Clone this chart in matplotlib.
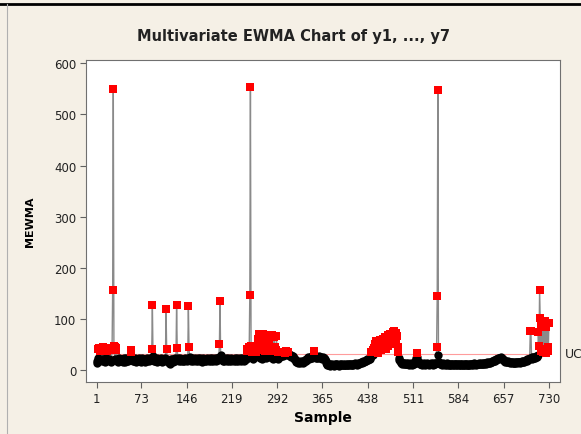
import matplotlib.pyplot as plt
import numpy as np
from matplotlib.lines import Line2D
from matplotlib.transforms import blended_transform_factory

# MEWMA statistic, samples 1..730
mewma = [
    14, 18, 24, 41, 44, 20, 38, 43, 19, 22, 45, 40, 21, 17, 42, 23, 19, 38, 44, 20,
    22, 18, 41, 20, 17, 39, 157, 550, 47, 45, 21, 40, 44, 19, 22, 17, 20, 23, 18, 21,
    19, 22, 17, 21, 24, 18, 16, 20, 23, 19, 21, 18, 22, 20, 24, 36, 40, 22, 19, 21,
    18, 20, 23, 17, 21, 19, 22, 18, 20, 24, 19, 17, 21, 23, 18, 20, 22, 19, 17, 21,
    20, 23, 18, 21, 19, 22, 24, 20, 22, 41, 127, 28, 21, 19, 22, 18, 20, 23, 17, 21,
    19, 22, 18, 20, 23, 21, 17, 20, 22, 19, 24, 21, 119, 41, 22, 18, 20, 15, 13, 19,
    21, 18, 22, 20, 17, 21, 23, 19, 22, 128, 43, 24, 20, 18, 21, 23, 19, 22, 20, 18,
    21, 19, 23, 20, 22, 18, 21, 24, 126, 46, 25, 22, 19, 21, 23, 20, 18, 22, 24, 21,
    19, 22, 20, 23, 18, 21, 24, 20, 22, 19, 17, 21, 23, 20, 18, 22, 21, 19, 23, 20,
    22, 18, 21, 24, 20, 19, 23, 21, 18, 22, 20, 24, 21, 19, 23, 20, 22, 25, 51, 136,
    30, 24, 21, 19, 22, 20, 18, 21, 23, 20, 19, 22, 24, 20, 18, 21, 23, 19, 22, 20,
    21, 18, 22, 24, 20, 19, 23, 21, 18, 22, 20, 23, 21, 19, 22, 24, 20, 18, 21, 23,
    20, 22, 38, 42, 24, 45, 40, 148, 553, 48, 35, 44, 22, 38, 40, 25, 47, 36, 42, 48,
    62, 28, 70, 45, 24, 68, 40, 22, 71, 52, 26, 66, 38, 23, 69, 44, 25, 64, 50, 27,
    67, 42, 24, 68, 38, 22, 65, 46, 26, 40, 67, 24, 36, 22, 25, 28, 26, 30, 27, 29,
    28, 31, 36, 34, 30, 37, 32, 35, 36, 29, 31, 28, 27, 30, 26, 28, 25, 27, 24, 22,
    22, 19, 17, 16, 18, 15, 17, 16, 14, 18, 16, 17, 15, 19, 17, 18, 20, 19, 22, 21,
    23, 25, 22, 24, 26, 23, 25, 27, 24, 26, 30, 38, 28, 25, 24, 26, 23, 25, 27, 24,
    26, 23, 25, 24, 22, 25, 23, 24, 21, 18, 14, 12, 11, 10, 12, 11, 9, 12, 10, 11,
    12, 10, 11, 9, 12, 11, 13, 10, 12, 11, 9, 10, 12, 11, 13, 10, 11, 12, 10, 11,
    12, 11, 10, 13, 11, 12, 10, 11, 13, 12, 11, 10, 12, 13, 11, 12, 14, 12, 13, 11,
    12, 14, 13, 12, 15, 14, 16, 15, 17, 16, 18, 17, 19, 18, 20, 19, 21, 20, 22, 21,
    22, 24, 28, 35, 32, 40, 30, 44, 36, 52, 38, 57, 42, 48, 34, 55, 45, 60, 40, 53,
    47, 62, 44, 58, 50, 65, 42, 60, 54, 68, 48, 63, 57, 70, 52, 66, 60, 74, 56, 69,
    77, 63, 72, 58, 66, 45, 36, 24, 20, 18, 16, 15, 14, 13, 15, 14, 12, 13, 14, 12,
    13, 12, 14, 13, 11, 12, 14, 13, 12, 11, 13, 14, 12, 15, 18, 24, 34, 26, 18, 15,
    14, 13, 12, 14, 13, 11, 12, 13, 14, 12, 11, 13, 12, 14, 13, 12, 11, 13, 12, 14,
    12, 13, 11, 14, 12, 13, 15, 14, 45, 145, 548, 30, 16, 14, 12, 13, 11, 12, 14, 13,
    12, 11, 13, 12, 14, 11, 12, 13, 11, 12, 10, 12, 11, 13, 12, 11, 10, 12, 13, 11,
    12, 11, 13, 12, 10, 11, 12, 13, 11, 12, 11, 10, 12, 11, 13, 12, 11, 12, 10, 11,
    12, 11, 13, 12, 11, 12, 13, 11, 12, 14, 12, 13, 11, 12, 13, 12, 14, 13, 12, 13,
    14, 13, 12, 14, 13, 15, 14, 13, 15, 14, 16, 15, 14, 16, 15, 17, 16, 18, 17, 19,
    18, 20, 19, 21, 20, 22, 21, 23, 22, 24, 23, 25, 24, 23, 22, 21, 20, 19, 18, 17,
    18, 17, 16, 18, 17, 16, 15, 17, 16, 15, 17, 16, 15, 14, 16, 15, 17, 16, 15, 16,
    17, 16, 15, 17, 16, 18, 17, 16, 18, 17, 19, 18, 20, 19, 21, 20, 22, 21, 24, 77,
    77, 26, 22, 24, 25, 23, 26, 24, 27, 25, 28, 30, 74, 47, 157, 102, 38, 90, 42, 95,
    36, 88, 96, 40, 85, 34, 92, 45, 38, 93,
]
ucl = 32.5
xticks = [1, 73, 146, 219, 292, 365, 438, 511, 584, 657, 730]
yticks = [0, 100, 200, 300, 400, 500, 600]

bg = '#f5f0e6'
y = np.array(mewma, dtype=float)
x = np.arange(1, len(y) + 1)
out = y > ucl

fig = plt.figure(figsize=(5.81, 4.35), dpi=100, facecolor=bg)
ax = fig.add_axes([0.148, 0.1195, 0.816, 0.740])
ax.set_facecolor('white')

# connecting line, then in-control and out-of-control points
ax.plot(x, y, color='#8a8a8a', lw=1.0, zorder=1)
ax.plot(x[~out], y[~out], 'o', color='black', ms=6, mew=0, zorder=2)
ax.plot(x[out], y[out], 's', color='#ff0000', ms=6.3, mew=0, zorder=3)

# control limit
ax.plot([x[0], x[-1]], [ucl, ucl], color='#ff9c9c', lw=0.8, zorder=0)
trans = blended_transform_factory(ax.transAxes, ax.transData)
ax.text(1.01, ucl, 'UCL', transform=trans, fontsize=9, color='#222222',
        va='center', ha='left', clip_on=False)

ax.set_xlim(-16, 748)
ax.set_ylim(-23, 606)
ax.set_xticks(xticks)
ax.set_yticks(yticks)
ax.tick_params(direction='out', length=4, width=0.8, color='#606060',
               labelsize=8.5, labelcolor='#222222', pad=3)
for s in ax.spines.values():
    s.set_color('#707070')
    s.set_linewidth(0.8)

ax.set_xlabel('Sample', fontsize=10, fontweight='bold', labelpad=4)
ax.set_ylabel('MEWMA', fontsize=8, fontweight='bold', labelpad=14)
fig.text(0.505, 0.915, 'Multivariate EWMA Chart of y1, ..., y7',
         ha='center', va='center', fontsize=10.5, fontweight='bold',
         color='#222222')

# window frame lines
fig.add_artist(Line2D([0, 1], [0.9875, 0.9875], color='black', lw=2,
                      transform=fig.transFigure))
fig.add_artist(Line2D([0.012, 0.012], [0, 0.9875], color='#b0b0b0', lw=0.8,
                      transform=fig.transFigure))

fig.savefig('out.png', dpi=100, facecolor=bg)
